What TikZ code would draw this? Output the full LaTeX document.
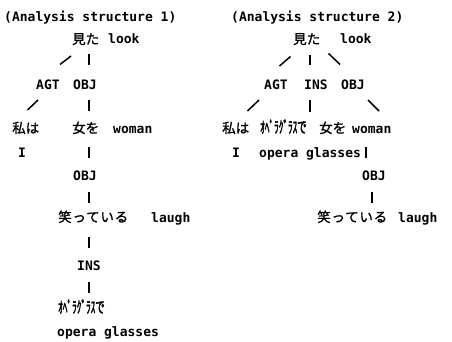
\documentclass[tikz,border=0pt]{standalone}
\usepackage{fontspec}
\newfontfamily\lat{DejaVu Sans Mono Bold}
\newfontfamily\cjk{Noto Sans CJK JP}[FakeBold=1.2]
\newfontfamily\kana{Noto Sans CJK JP}[FakeBold=2.5]
\begin{document}
\begin{tikzpicture}[x=1pt,y=-1pt,
  en/.style={anchor=base west,inner sep=0pt,font=\lat\fontsize{13}{14}\selectfont},
  ja/.style={anchor=base west,inner sep=0pt,font=\cjk\fontsize{13.5}{15}\selectfont},
  ka/.style={anchor=base west,inner sep=0pt,font=\kana\fontsize{16}{17}\selectfont},
  stroke/.style={line width=1.5pt}]
\useasboundingbox[fill=white] (0,0) rectangle (452,342);
% ---------- left tree ----------
\node[en] (t1) at (4,22) {(Analysis structure 1)};
\node[ja] (mita1) at (72,44) {見た};
\node[en] (look1) at (108,44) {look};
\node[en] (agt1) at (36,89.5) {AGT};
\node[en] (obj1) at (73,89.5) {OBJ};
\node[ja] (wat1) at (12,133) {私は};
\node[ja] (onna1) at (72,133) {女を};
\node[en] (woman1) at (113,133) {woman};
\node[en] (i1) at (18,157.5) {I};
\node[en] (obj1b) at (73,180) {OBJ};
\node[ja] (warau1) at (58,222) {\addfontfeature{LetterSpace=6}笑っている};
\node[en] (laugh1) at (151,222) {laugh};
\node[en] (ins1) at (77,270) {INS};
\node[ka] (opja1) at (58,313) {\scalebox{0.58}[1]{ｵﾍﾟﾗｸﾞﾗｽで}};
\node[en] (open1) at (57,336) {opera glasses};
% strokes
\coordinate (a1) at (60,64.5); \coordinate (a2) at (71,56);
\draw[stroke] (a1) -- (a2);
\coordinate (b1) at (89,54); \coordinate (b2) at (89,65);
\draw[stroke] (b1) -- (b2);
\coordinate (c1) at (27.5,110); \coordinate (c2) at (38,100);
\draw[stroke] (c1) -- (c2);
\coordinate (d1) at (89,100); \coordinate (d2) at (89,111);
\draw[stroke] (d1) -- (d2);
\coordinate (e1) at (89,147); \coordinate (e2) at (89,158);
\draw[stroke] (e1) -- (e2);
\coordinate (f1) at (89,192); \coordinate (f2) at (89,203);
\draw[stroke] (f1) -- (f2);
\coordinate (g1) at (89,237); \coordinate (g2) at (89,248);
\draw[stroke] (g1) -- (g2);
\coordinate (h1) at (89,282); \coordinate (h2) at (89,293);
\draw[stroke] (h1) -- (h2);
% ---------- right tree ----------
\node[en] (t2) at (231,22) {(Analysis structure 2)};
\node[ja] (mita2) at (293,44) {見た};
\node[en] (look2) at (340,44) {look};
\node[en] (agt2) at (264,89.5) {AGT};
\node[en] (ins2) at (304,89.5) {INS};
\node[en] (obj2) at (341,89.5) {OBJ};
\node[ja] (wat2) at (222,133) {私は};
\node[ka] (opja2) at (260,133) {\scalebox{0.58}[1]{ｵﾍﾟﾗｸﾞﾗｽで}};
\node[ja] (onna2) at (319,133) {女を};
\node[en] (woman2) at (352,133) {woman};
\node[en] (i2) at (232,157.5) {I};
\node[en] (open2) at (259,157.5) {opera glasses};
\node[en] (obj2b) at (362,180) {OBJ};
\node[ja] (warau2) at (317,222) {\addfontfeature{LetterSpace=6}笑っている};
\node[en] (laugh2) at (398,222) {laugh};
% strokes
\coordinate (p1) at (279.5,66); \coordinate (p2) at (290.5,56.5);
\draw[stroke] (p1) -- (p2);
\coordinate (q1) at (310,55); \coordinate (q2) at (310,65.5);
\draw[stroke] (q1) -- (q2);
\coordinate (r1) at (328.5,53.5); \coordinate (r2) at (340,64.5);
\draw[stroke] (r1) -- (r2);
\coordinate (s1) at (247.5,111); \coordinate (s2) at (259,100);
\draw[stroke] (s1) -- (s2);
\coordinate (u1) at (310,100.5); \coordinate (u2) at (310,112);
\draw[stroke] (u1) -- (u2);
\coordinate (v1) at (368,100); \coordinate (v2) at (379,111);
\draw[stroke] (v1) -- (v2);
\coordinate (w1) at (366,147); \coordinate (w2) at (366,158);
\draw[stroke] (w1) -- (w2);
\coordinate (z1) at (372,192); \coordinate (z2) at (372,203);
\draw[stroke] (z1) -- (z2);
\end{tikzpicture}
\end{document}
